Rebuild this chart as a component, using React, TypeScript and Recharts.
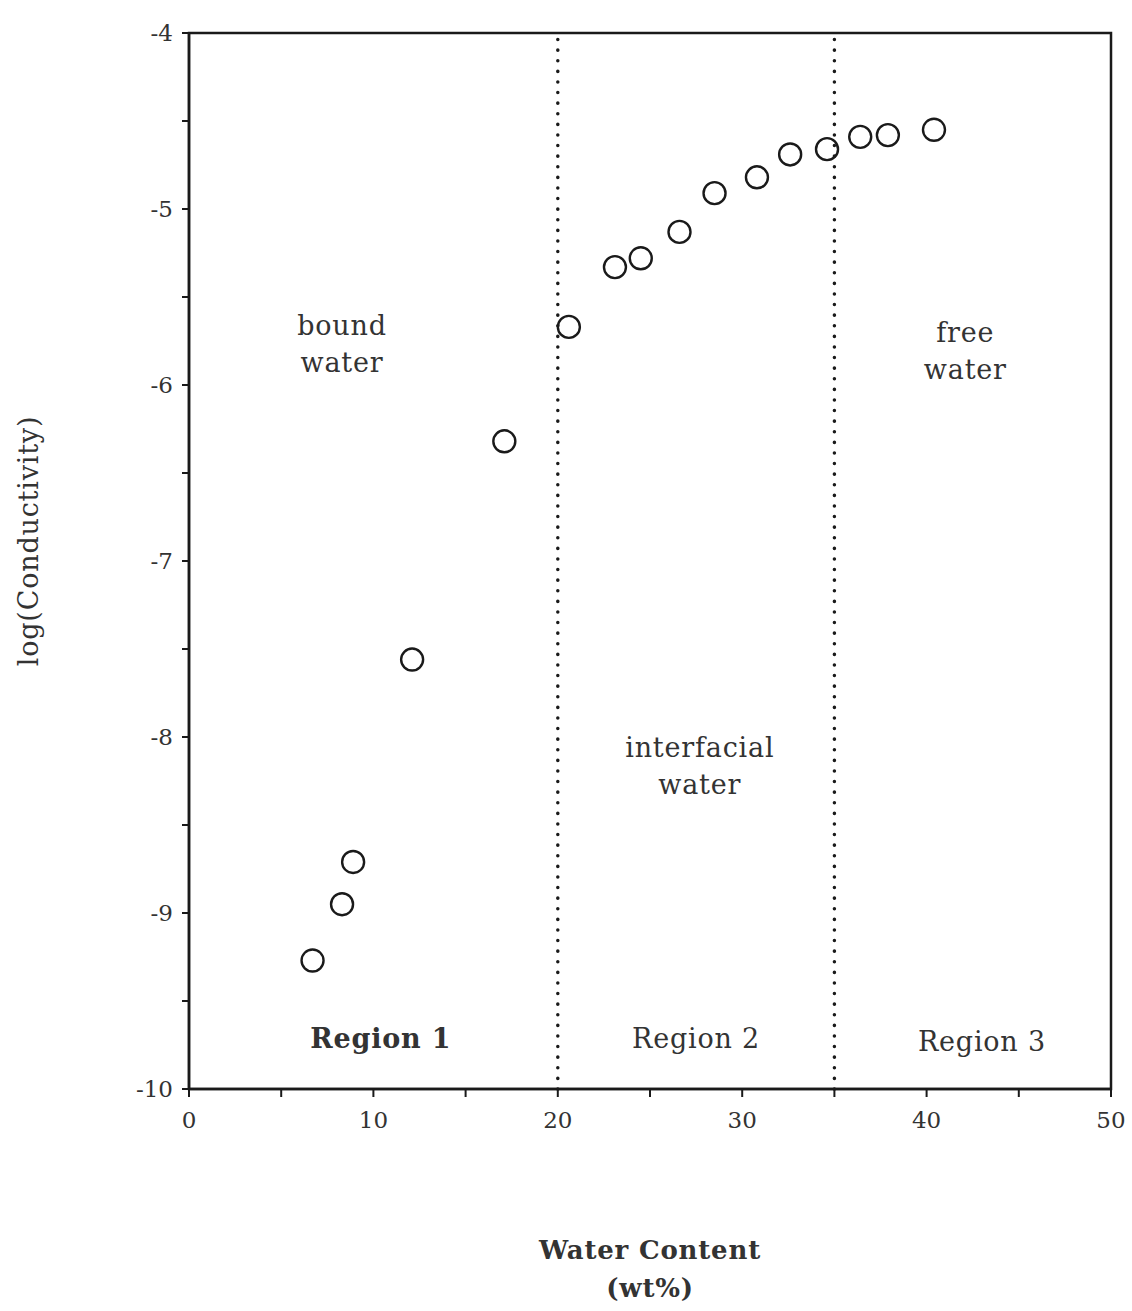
import React from 'react';
import { ScatterChart, Scatter, XAxis, YAxis, ReferenceLine, ReferenceArea, ReferenceDot, Label } from 'recharts';

// water content (wt%) and log conductivity
const waterContent = [6.7, 8.3, 8.9, 12.1, 17.1, 20.6, 23.1, 24.5, 26.6, 28.5, 30.8, 32.6, 34.6, 36.4, 37.9, 40.4];
const logConductivity = [-9.27, -8.95, -8.71, -7.56, -6.32, -5.67, -5.33, -5.28, -5.13, -4.91, -4.82, -4.69, -4.66, -4.59, -4.58, -4.55];

const regionBounds = [20, 35];

const xTicks = [0, 5, 10, 15, 20, 25, 30, 35, 40, 45, 50];
const yTicks = [-10, -9.5, -9, -8.5, -8, -7.5, -7, -6.5, -6, -5.5, -5, -4.5, -4];

const notes = [
  { x: 8.3, y: -5.66, text: 'bound', bold: false },
  { x: 8.3, y: -5.87, text: 'water', bold: false },
  { x: 27.7, y: -8.06, text: 'interfacial', bold: false },
  { x: 27.7, y: -8.27, text: 'water', bold: false },
  { x: 42.1, y: -5.7, text: 'free', bold: false },
  { x: 42.1, y: -5.91, text: 'water', bold: false },
  { x: 10.4, y: -9.71, text: 'Region 1', bold: true },
  { x: 27.5, y: -9.71, text: 'Region 2', bold: false },
  { x: 43.0, y: -9.73, text: 'Region 3', bold: false },
];

const FONT = '"DejaVu Serif", "Liberation Serif", serif';
const INK = '#1a1a1a';
const TEXT = '#333';

const points = waterContent.map((x, i) => ({ x, y: logConductivity[i] }));

const OpenCircle: React.FC<any> = ({ cx, cy }) => (
  <circle cx={cx} cy={cy} r={11} fill="none" stroke={INK} strokeWidth={2.4} />
);

const YTitle: React.FC<any> = ({ viewBox }) => {
  const x = viewBox.x - 101;
  const y = viewBox.y + viewBox.height / 2 - 20;
  return (
    <text x={x} y={y} transform={`rotate(-90, ${x}, ${y})`} textAnchor="middle" dominantBaseline="central"
      fontFamily={FONT} fontSize={27} fill={TEXT} letterSpacing={0.8}>
      log(Conductivity)
    </text>
  );
};

export default function App() {
  return (
    <div style={{ position: 'absolute', left: 0, top: 0, width: 1132, height: 1311, background: '#fff' }}>
      <ScatterChart width={1132} height={1311} margin={{ top: 33, right: 21, left: 129, bottom: 182 }}>
        <XAxis type="number" dataKey="x" domain={[0, 50]} ticks={xTicks} interval={0}
          tickFormatter={(v: number) => (v % 10 === 0 ? String(v) : '')}
          axisLine={{ stroke: INK, strokeWidth: 2.5 }} tickLine={{ stroke: INK, strokeWidth: 2 }}
          tickSize={8} tickMargin={15} height={40}
          tick={{ fontFamily: FONT, fontSize: 23, fill: TEXT }}>
          <Label value="Water Content" position="bottom" offset={112} fontFamily={FONT} fontSize={26} fontWeight="bold" fill={TEXT} letterSpacing={0.8} />
          <Label value="(wt%)" position="bottom" offset={150} fontFamily={FONT} fontSize={26} fontWeight="bold" fill={TEXT} letterSpacing={0.8} />
        </XAxis>
        <YAxis type="number" dataKey="y" domain={[-10, -4]} ticks={yTicks} interval={0}
          tickFormatter={(v: number) => (Number.isInteger(v) ? String(v) : '')}
          axisLine={{ stroke: INK, strokeWidth: 2.5 }} tickLine={{ stroke: INK, strokeWidth: 2 }}
          tickSize={7} tickMargin={9} width={60}
          tick={{ fontFamily: FONT, fontSize: 23, fill: TEXT }}
          label={<YTitle />} />
        <ReferenceArea x1={0} x2={50} y1={-10} y2={-4} fill="none" stroke={INK} strokeWidth={2.5} />
        {regionBounds.map((b) => (
          <ReferenceLine key={b} x={b} stroke={INK} strokeWidth={3.5} strokeDasharray="0.1 10.5" strokeLinecap="round" />
        ))}
        {notes.map((n, i) => (
          <ReferenceDot key={i} x={n.x} y={n.y} r={0} fill="none" stroke="none"
            label={{ value: n.text, position: 'center', fontFamily: FONT, fontSize: 27, letterSpacing: 0.8, fontWeight: n.bold ? 'bold' : 'normal', fill: TEXT }} />
        ))}
        <Scatter data={points} shape={<OpenCircle />} isAnimationActive={false} />
      </ScatterChart>
    </div>
  );
}
